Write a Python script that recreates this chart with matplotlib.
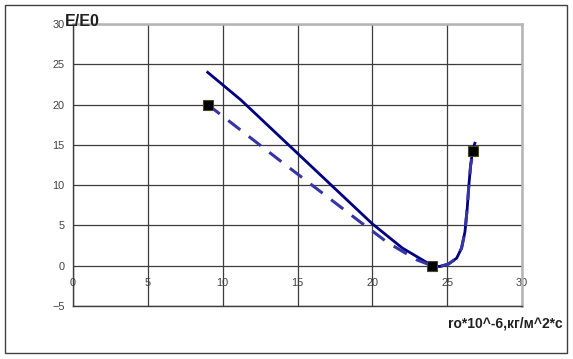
import matplotlib
matplotlib.use("Agg")
import matplotlib.pyplot as plt
from matplotlib.patches import Rectangle

plt.rcParams['font.family'] = ['Liberation Sans', 'DejaVu Sans']

# Data
solid_x = [9, 11.2, 20, 22, 24, 24.5, 25.07, 25.63, 25.96, 26.19, 26.34, 26.45, 26.57, 26.7, 26.85]
solid_y = [24, 20.6, 5.2, 2.2, 0, -0.1, 0.19, 0.93, 2.17, 4.23, 7.13, 10.0, 12.5, 14.37, 15.2]
dash_x = [9, 14, 19, 21, 23, 24, 24.5, 25.07, 25.63, 25.96, 26.19, 26.34, 26.45, 26.57, 26.75]
dash_y = [20, 12.8, 5.7, 2.9, 0.7, 0, -0.1, 0.19, 0.93, 2.17, 4.23, 7.13, 10.0, 12.5, 14.2]
marker_x = [9, 24, 26.75]
marker_y = [20, 0, 14.2]
xticks = [0, 5, 10, 15, 20, 25, 30]
yticks = [-5, 0, 5, 10, 15, 20, 25, 30]

fig = plt.figure(figsize=(5.73, 3.59), dpi=100)
fig.patches.append(Rectangle((5/573, 1-353/359), 562/573, 348/359,
                             transform=fig.transFigure, fill=False,
                             edgecolor='#404040', linewidth=1.0))
ax = fig.add_axes([73/573, 1-306/359, 449/573, 282/359])

ax.plot(solid_x, solid_y, color='#000080', linewidth=2.0, zorder=3,
        solid_joinstyle='round')
ax.plot(dash_x, dash_y, color='#3535a5', linewidth=2.2, dashes=(5, 3.5), zorder=4)
ax.plot(marker_x, marker_y, linestyle='none', marker='s', markersize=6.5,
        markerfacecolor='black', markeredgecolor='#4a4a20', markeredgewidth=0.8, zorder=5)

ax.set_xlim(0, 30)
ax.set_ylim(-5, 30)
ax.set_xticks(xticks)
ax.set_yticks(yticks)
ax.grid(True, color='#3c3c3c', linewidth=0.9)

ax.spines['bottom'].set_color('#3c3c3c')
ax.spines['bottom'].set_linewidth(1.0)
ax.spines['left'].set_color('#3c3c3c')
ax.spines['left'].set_linewidth(1.0)
for s in ('top', 'right'):
    ax.spines[s].set_color('#b4b4b4')
    ax.spines[s].set_linewidth(1.8)

ax.tick_params(axis='x', labelbottom=False, length=0)
ax.tick_params(axis='y', length=0, labelsize=7.8, labelcolor='#404040', pad=6)

sec = ax.secondary_xaxis(5/35)
sec.set_xticks(xticks)
sec.spines['bottom'].set_visible(False)
sec.tick_params(length=0, labelsize=7.8, labelcolor='#404040', pad=9)

fig.text(65/573, 1-21/359, 'E/E0', fontsize=11.5, fontweight='bold',
         ha='left', va='center', color='#202020')
fig.text(563/573, 1-324/359, 'ro*10^-6,кг/м^2*с', fontsize=10, fontweight='bold',
         ha='right', va='center', color='#202020')

fig.savefig('out.png', dpi=100)
